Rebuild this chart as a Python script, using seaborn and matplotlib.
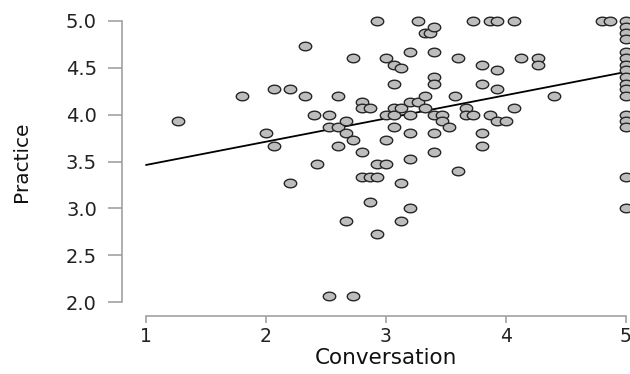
import numpy as np
import pandas as pd
import matplotlib
matplotlib.use("Agg")
import matplotlib.pyplot as plt
from matplotlib.path import Path
import seaborn as sns

# ---- data ----
conv_col5 = [5.0] * 17
prac_col5 = [5.00, 4.93, 4.87, 4.80, 4.67, 4.60, 4.53, 4.47, 4.40, 4.33,
             4.27, 4.20, 4.00, 3.93, 3.87, 3.33, 3.00]

conversation = [
    1.27, 1.80, 2.00, 2.07, 2.07, 2.20, 2.20, 2.33, 2.33, 2.40,
    2.43, 2.53, 2.53, 2.53, 2.60, 2.60, 2.60, 2.67, 2.67, 2.67,
    2.73, 2.73, 2.73, 2.80, 2.80, 2.80, 2.80, 2.87, 2.87, 2.87,
    2.93, 2.93, 2.93, 2.93, 3.00, 3.00, 3.00, 3.00, 3.07, 3.07,
    3.07, 3.07, 3.07, 3.13, 3.13, 3.13, 3.13, 3.20, 3.20, 3.20,
    3.20, 3.20, 3.20, 3.27, 3.27, 3.33, 3.37, 3.33, 3.33, 3.40,
    3.40, 3.40, 3.40, 3.40, 3.40, 3.40, 3.47, 3.47, 3.53, 3.60,
    3.58, 3.60, 3.67, 3.67, 3.73, 3.73, 3.80, 3.80, 3.80, 3.80,
    3.87, 3.87, 3.93, 3.93, 3.93, 3.93, 4.00, 4.07, 4.07, 4.13,
    4.27, 4.27, 4.40, 4.80, 4.87,
] + conv_col5

practice = [
    3.93, 4.20, 3.80, 4.27, 3.67, 4.27, 3.27, 4.73, 4.20, 4.00,
    3.47, 4.00, 3.87, 2.07, 4.20, 3.87, 3.67, 3.93, 3.80, 2.87,
    4.60, 3.73, 2.07, 4.13, 4.07, 3.60, 3.33, 4.07, 3.33, 3.07,
    5.00, 3.47, 3.33, 2.73, 4.60, 4.00, 3.73, 3.47, 4.53, 4.33,
    4.07, 4.00, 3.87, 4.50, 4.07, 3.27, 2.87, 4.67, 4.13, 4.00,
    3.80, 3.53, 3.00, 5.00, 4.13, 4.87, 4.87, 4.20, 4.07, 4.93,
    4.67, 4.40, 4.33, 4.00, 3.80, 3.60, 4.00, 3.93, 3.87, 4.60,
    4.20, 3.40, 4.07, 4.00, 5.00, 4.00, 4.53, 4.33, 3.80, 3.67,
    5.00, 4.00, 5.00, 4.47, 4.27, 3.93, 3.93, 5.00, 4.07, 4.60,
    4.60, 4.53, 4.20, 5.00, 5.00,
] + prac_col5

x_ticks = [1, 2, 3, 4, 5]
y_ticks = [2.0, 2.5, 3.0, 3.5, 4.0, 4.5, 5.0]
x_label = "Conversation"
y_label = "Practice"

df = pd.DataFrame({x_label: conversation, y_label: practice})

# ---- style ----
sns.set_style("white")
plt.rcParams["font.family"] = ["DejaVu Sans"]

fig = plt.figure(figsize=(6.30, 3.74), dpi=100)
ax = fig.add_axes([0.19365, 0.1543, 0.8376, 0.828])

# horizontally stretched circle marker, as in the reference
t = np.linspace(0, 2 * np.pi, 64)
ellipse = Path(np.column_stack([1.45 * np.cos(t), np.sin(t)]), closed=True)

# regression line spanning the x-axis range 1..5
ax.set_xlim(1, 5)
sns.regplot(data=df, x=x_label, y=y_label, ax=ax, scatter=False, ci=None,
            truncate=False, line_kws=dict(color="black", lw=1.3))

sns.scatterplot(data=df, x=x_label, y=y_label, ax=ax, marker=ellipse, s=80,
                color="#bdbdbd", edgecolor="#262626", linewidth=1.0,
                zorder=3, legend=False)

ax.set_xlim(0.8, 5.2)
ax.set_ylim(1.851, 5.15)

ax.set_xticks(x_ticks)
ax.set_xticklabels([str(v) for v in x_ticks])
ax.set_yticks(y_ticks)
ax.set_yticklabels([f"{v:.1f}" for v in y_ticks])

for side in ["top", "right"]:
    ax.spines[side].set_visible(False)
for side in ["left", "bottom"]:
    ax.spines[side].set_color("#9a9a9a")
    ax.spines[side].set_linewidth(1.1)
ax.spines["left"].set_bounds(2.0, 5.0)
ax.spines["bottom"].set_bounds(1, 5)

ax.tick_params(axis="y", length=10, width=1.1, color="#9a9a9a",
               labelsize=14, labelcolor="#222222", pad=8, left=True)
ax.tick_params(axis="x", length=5, width=1.1, color="#9a9a9a",
               labelsize=13.5, labelcolor="#222222", pad=2.5, bottom=True)

ax.set_xlabel(x_label, fontsize=15.5, color="#111111")
ax.xaxis.set_label_coords(0.5, -0.104)
ax.set_ylabel(y_label, fontsize=14.5, color="#111111")
ax.yaxis.set_label_coords(-0.173, 0.5)

fig.savefig("out.png", dpi=100)
